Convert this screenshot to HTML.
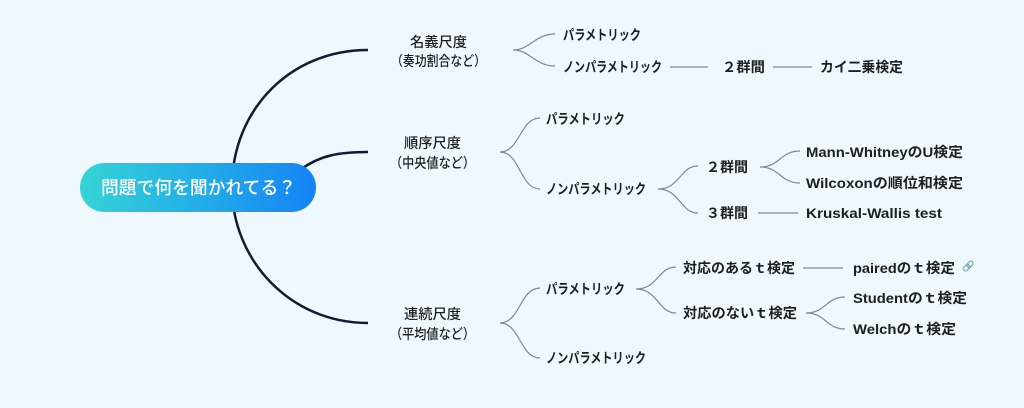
<!DOCTYPE html>
<html><head><meta charset="utf-8"><style>
html,body{margin:0;padding:0;background:#eef8fe;}
svg{display:block}
text{font-family:"Liberation Sans","Noto Sans CJK JP",sans-serif;font-size:14px;fill:#1e1e1e;font-weight:600;dominant-baseline:central}
.l1{font-weight:500;font-size:14px}
.g{fill:none;stroke:#7c8a96;stroke-width:1.2}
.k{fill:none;stroke:#101c34;stroke-width:2.5}
</style></head><body>
<svg width="1024" height="408" viewBox="0 0 1024 408">
<defs><linearGradient id="gr" x1="0" x2="1"><stop offset="0" stop-color="#35d4d6"/><stop offset="0.5" stop-color="#23aee8"/><stop offset="1" stop-color="#1583f5"/></linearGradient></defs>
<path class="k" d="M232,187 C232,110 290,50 368,50"/>
<path class="k" d="M300,170 C320,155 340,152 368,152"/>
<path class="k" d="M232,187 C232,260 290,323 368,323"/>
<rect x="80" y="163" width="236" height="49" rx="24.5" fill="url(#gr)"/>
<text x="101" y="188" textLength="195" lengthAdjust="spacingAndGlyphs" style="fill:#fff;font-size:18px;font-weight:500">問題で何を聞かれてる？</text>
<text class="l1" x="410" y="42" textLength="57" lengthAdjust="spacingAndGlyphs">名義尺度</text>
<text class="l1" x="391" y="61" textLength="95" lengthAdjust="spacingAndGlyphs">（奏功割合など）</text>
<text class="l1" x="404" y="143" textLength="57" lengthAdjust="spacingAndGlyphs">順序尺度</text>
<text class="l1" x="390" y="163" textLength="85" lengthAdjust="spacingAndGlyphs">（中央値など）</text>
<text class="l1" x="404" y="314" textLength="57" lengthAdjust="spacingAndGlyphs">連続尺度</text>
<text class="l1" x="390" y="334" textLength="85" lengthAdjust="spacingAndGlyphs">（平均値など）</text>
<path class="g" d="M513,50 C530,50 535,34 555,34 M513,50 C530,50 535,66 555,66"/>
<text x="563" y="35" textLength="78" lengthAdjust="spacingAndGlyphs">パラメトリック</text>
<text x="563" y="67" textLength="99" lengthAdjust="spacingAndGlyphs">ノンパラメトリック</text>
<path class="g" d="M670,67 H708 M773,67 H812"/>
<text x="722" y="67" textLength="43" lengthAdjust="spacingAndGlyphs">２群間</text>
<text x="820" y="67" textLength="83" lengthAdjust="spacingAndGlyphs">カイ二乗検定</text>
<path class="g" d="M500,152 C520,152 520,118 540,118 M500,152 C520,152 520,189 540,189"/>
<text x="546" y="119" textLength="79" lengthAdjust="spacingAndGlyphs">パラメトリック</text>
<text x="546" y="189" textLength="100" lengthAdjust="spacingAndGlyphs">ノンパラメトリック</text>
<path class="g" d="M658,189 C680,189 680,166 698,166 M658,189 C680,189 680,213 698,213"/>
<text x="706" y="167" textLength="42" lengthAdjust="spacingAndGlyphs">２群間</text>
<text x="706" y="213" textLength="42" lengthAdjust="spacingAndGlyphs">３群間</text>
<path class="g" d="M760,167 C780,167 780,151 800,151 M760,167 C780,167 780,183 800,183 M758,213 H798"/>
<text x="806" y="152" textLength="157" lengthAdjust="spacingAndGlyphs">Mann-WhitneyのU検定</text>
<text x="806" y="183" textLength="157" lengthAdjust="spacingAndGlyphs">Wilcoxonの順位和検定</text>
<text x="806" y="213" textLength="136" lengthAdjust="spacingAndGlyphs">Kruskal-Wallis test</text>
<path class="g" d="M500,323 C520,323 520,288 540,288 M500,323 C520,323 520,358 540,358"/>
<text x="546" y="289" textLength="79" lengthAdjust="spacingAndGlyphs">パラメトリック</text>
<text x="546" y="358" textLength="100" lengthAdjust="spacingAndGlyphs">ノンパラメトリック</text>
<path class="g" d="M636,289 C658,289 658,267 676,267 M636,289 C658,289 658,313 676,313"/>
<text x="683" y="268" textLength="112" lengthAdjust="spacingAndGlyphs">対応のあるｔ検定</text>
<text x="683" y="313" textLength="114" lengthAdjust="spacingAndGlyphs">対応のないｔ検定</text>
<path class="g" d="M803,268 H843 M806,313 C826,313 826,297 845,297 M806,313 C826,313 826,329 845,329"/>
<text x="853" y="268" textLength="102" lengthAdjust="spacingAndGlyphs">pairedのｔ検定</text>
<text x="853" y="298" textLength="114" lengthAdjust="spacingAndGlyphs">Studentのｔ検定</text>
<text x="853" y="329" textLength="103" lengthAdjust="spacingAndGlyphs">Welchのｔ検定</text>
<text x="962" y="267" style="font-size:10px;fill:#aab;font-weight:400">🔗</text>
</svg>
</body></html>
